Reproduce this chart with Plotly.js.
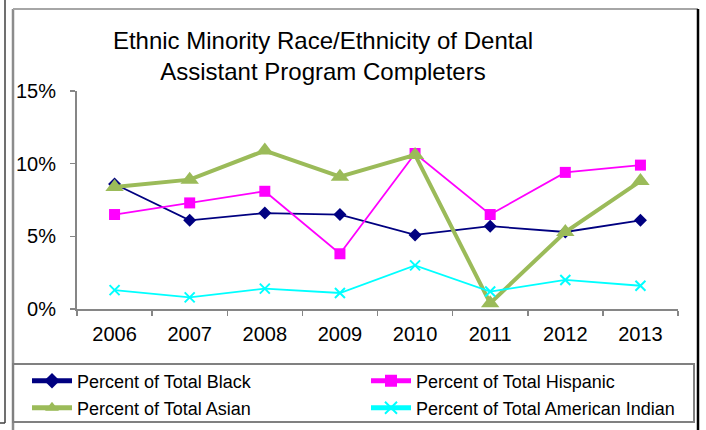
<!DOCTYPE html>
<html>
<head>
<meta charset="utf-8">
<script src="https://cdn.plot.ly/plotly-3.0.1.min.js"></script>
<style>html,body{margin:0;padding:0;background:#fff;}#chart{width:706px;height:430px;}</style>
</head>
<body>
<div id="chart"></div>
<script>
const years = ["2006","2007","2008","2009","2010","2011","2012","2013"];
const black = [0.086, 0.061, 0.066, 0.065, 0.051, 0.057, 0.053, 0.061];
const hispanic = [0.065, 0.073, 0.081, 0.038, 0.107, 0.065, 0.094, 0.099];
const asian = [0.084, 0.089, 0.109, 0.091, 0.106, 0.004, 0.053, 0.088];
const amIndian = [0.013, 0.008, 0.014, 0.011, 0.030, 0.012, 0.020, 0.016];
const seriesNames = ["Percent of Total Black","Percent of Total Hispanic","Percent of Total Asian","Percent of Total American Indian"];
const yTickVals = [0, 0.05, 0.10, 0.15];
const yTickText = ["0%","5%","10%","15%"];

const W = 706, H = 430;
const M = {l: 77, r: 28, t: 91, b: 121};
const pw = W - M.l - M.r, ph = H - M.t - M.b;
const px = x => (x - M.l) / pw;
const py = y => (H - M.b - y) / ph;
const FONT = "Liberation Sans, Arial, sans-serif";

const traces = [
  {x: years, y: black, name: seriesNames[0], type: "scatter", mode: "lines+markers",
   line: {color: "#000080", width: 1.8}, marker: {symbol: "diamond", size: 10, color: "#000080"}, legend: "legend"},
  {x: years, y: hispanic, name: seriesNames[1], type: "scatter", mode: "lines+markers",
   line: {color: "#FF00FF", width: 1.8}, marker: {symbol: "square", size: 11, color: "#FF00FF"}, legend: "legend2"},
  {x: years, y: asian, name: seriesNames[2], type: "scatter", mode: "lines+markers",
   line: {color: "#9BBB59", width: 4}, marker: {symbol: "triangle-up", size: 16, color: "#9BBB59"}, legend: "legend3"},
  {x: years, y: amIndian, name: seriesNames[3], type: "scatter", mode: "lines+markers",
   line: {color: "#00FFFF", width: 1.8}, marker: {symbol: "x-thin", size: 10, color: "#00FFFF", line: {color: "#00FFFF", width: 2}}, legend: "legend4"}
];

const frameShapes = [
  {type: "line", xref: "paper", yref: "paper", x0: px(5), x1: px(5), y0: py(0), y1: py(423), line: {color: "#404040", width: 1.5}},
  {type: "line", xref: "paper", yref: "paper", x0: px(0), x1: px(5), y0: py(423), y1: py(423), line: {color: "#404040", width: 1.5}},
  {type: "line", xref: "paper", yref: "paper", x0: px(13), x1: px(13), y0: py(9), y1: py(432), line: {color: "#8c8c8c", width: 2.5}},
  {type: "line", xref: "paper", yref: "paper", x0: px(13), x1: px(698), y0: py(9), y1: py(9), line: {color: "#a6a6a6", width: 2}},
  {type: "line", xref: "paper", yref: "paper", x0: px(698), x1: px(698), y0: py(9), y1: py(432), line: {color: "#000000", width: 2.5}},
  {type: "rect", xref: "paper", yref: "paper", x0: px(13), x1: px(694), y0: py(364), y1: py(422), line: {color: "#808080", width: 2}, fillcolor: "rgba(0,0,0,0)"}
];

const legendCommon = {orientation: "h", xref: "container", yref: "container", xanchor: "left", yanchor: "middle",
  font: {family: FONT, size: 18, color: "#000"}, itemwidth: 40, itemsizing: "constant",
  bgcolor: "rgba(0,0,0,0)", borderwidth: 0};
const legendPos = [[27, 381], [366, 381], [27, 408], [366, 408]];
const mkLegend = i => Object.assign({}, legendCommon, {x: legendPos[i][0] / W, y: 1 - legendPos[i][1] / H});

const layout = {
  width: W, height: H,
  margin: M,
  paper_bgcolor: "#fff", plot_bgcolor: "#fff",
  font: {family: FONT, color: "#000"},
  title: {text: "Ethnic Minority Race/Ethnicity of Dental<br>Assistant Program Completers",
    font: {family: FONT, size: 24, color: "#000"}, xref: "container", yref: "container",
    x: 323 / W, xanchor: "center", y: 1 - 49 / H, yanchor: "top"},
  xaxis: {type: "category", range: [-0.5, 7.5], showgrid: false, zeroline: false,
    showline: true, linecolor: "#868686", linewidth: 2, ticks: "outside", tickson: "boundaries",
    ticklen: 5, tickwidth: 1.5, tickcolor: "#868686", ticklabelstandoff: 6,
    tickfont: {family: FONT, size: 20, color: "#000"}, fixedrange: true},
  yaxis: {range: [0, 0.15], tickvals: yTickVals, ticktext: yTickText, showgrid: false, zeroline: false,
    showline: true, linecolor: "#868686", linewidth: 2, ticks: "outside", ticklen: 5, tickwidth: 1.5, tickcolor: "#868686",
    ticklabelstandoff: 10, tickfont: {family: FONT, size: 20, color: "#000"}, fixedrange: true},
  legend: mkLegend(0),
  legend2: mkLegend(1),
  legend3: mkLegend(2),
  legend4: mkLegend(3),
  shapes: frameShapes,
  showlegend: true
};

Plotly.newPlot("chart", traces, layout, {displayModeBar: false, staticPlot: true});
</script>
</body>
</html>
